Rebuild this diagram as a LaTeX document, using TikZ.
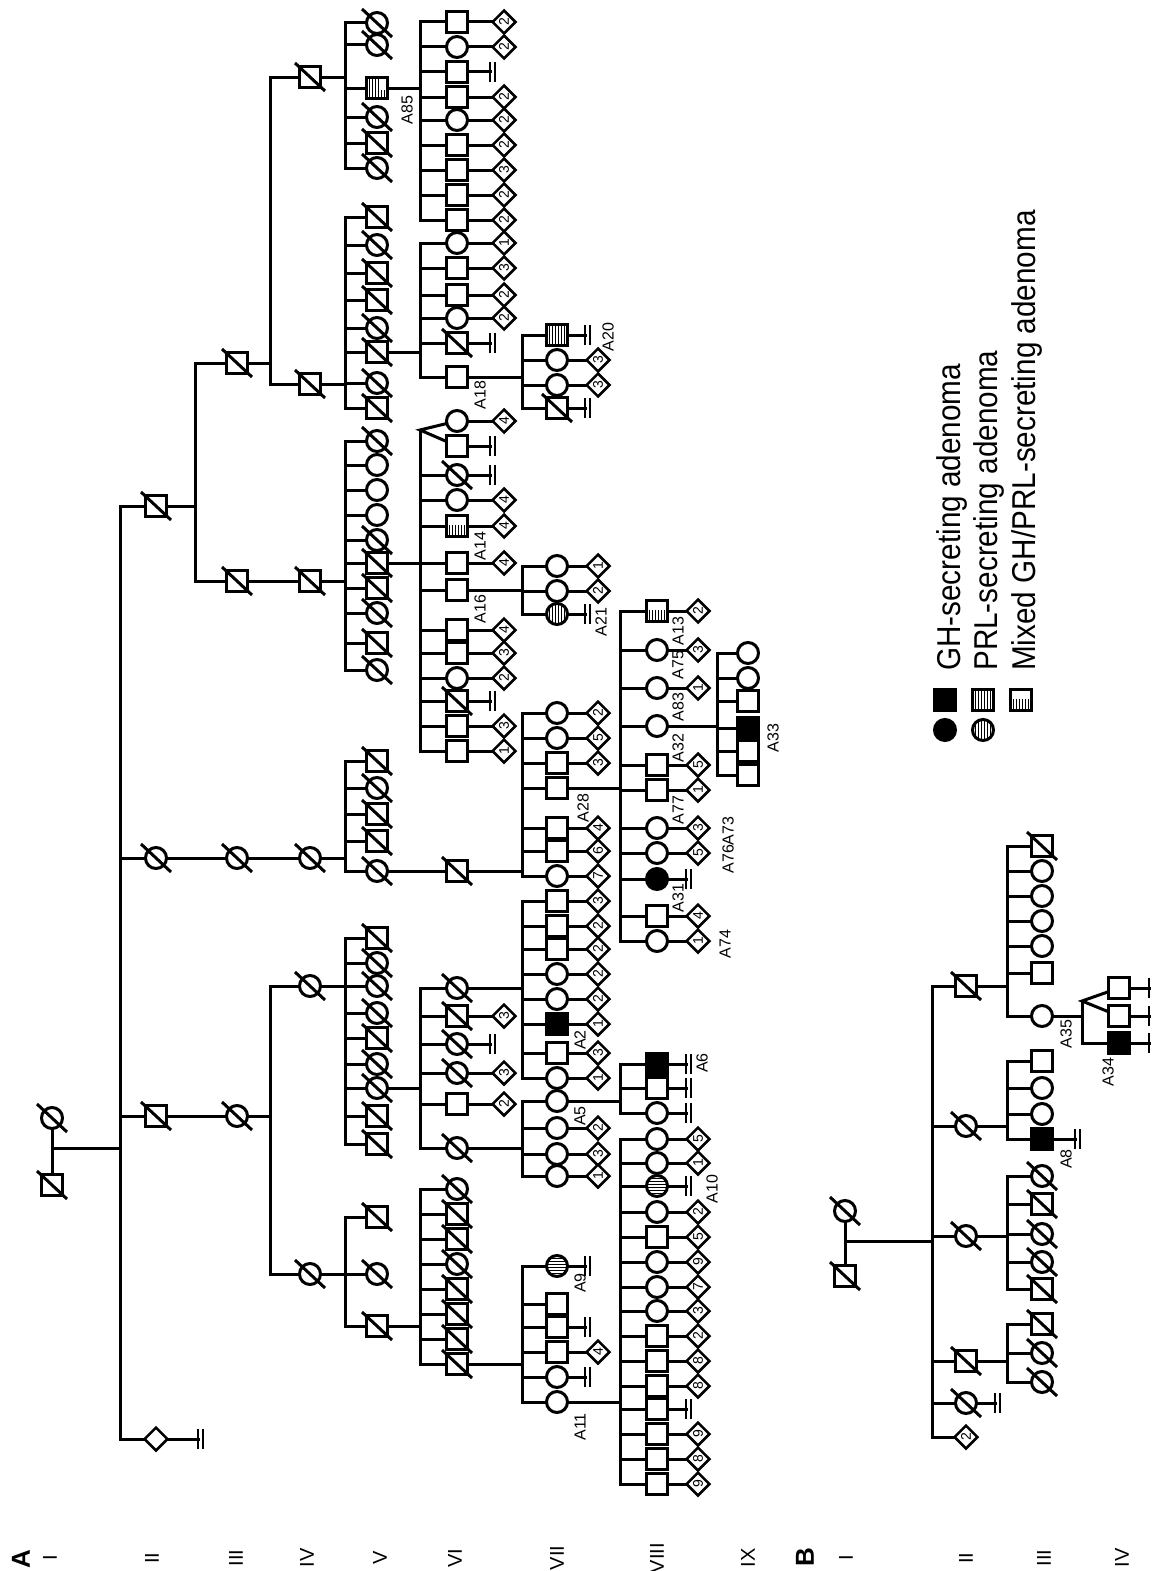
\documentclass[tikz,border=0pt]{standalone}
\usepackage{fontspec}
\setmainfont{Liberation Sans}
\newfontfamily\narrowf[FakeStretch=0.9]{Liberation Sans}
\usetikzlibrary{shapes.geometric}
\pgfdeclarelayer{bg}
\pgfsetlayers{bg,main}
\newcommand\digfont{\fontsize{14}{14}\selectfont}
\newcommand\labfont{\fontsize{16}{16}\selectfont}
\newcommand\legfont{\narrowf\fontsize{33}{33}\selectfont}
\newcommand\genfont{\fontsize{20}{20}\selectfont}
\newcommand\genbfont{\bfseries\fontsize{26}{26}\selectfont}
\newtoks\bgtoks
\newtoks\fgtoks
\newcommand\addbg[1]{\global\bgtoks\expandafter{\the\bgtoks #1}}
\newcommand\addfg[1]{\global\fgtoks\expandafter{\the\fgtoks #1}}
\newcommand\sibl[4]{\coordinate (#1t) at (#2,#3);\coordinate (#1b) at (#2,#4);%
  \addbg{\draw[ln] (#1t) -- (#1b);}}
\newcommand\pll[2]{\addbg{\draw[ln] (#2.center) -- (#2.center -| #1t);}}
\newcommand\lnk[2]{\addbg{\draw[ln] (#1.center) -- (#2.center);}}
\newcommand\slsh[1]{\addfg{\draw[slash] (#1.center) ++(-15,-14) -- ++(30,28);}}
\newcommand\chl[5]{\node[#4] (#2) at (\gx,#3) {};\pll{#1}{#2}\if d#5\slsh{#2}\fi}
\newcommand\dnode[4]{\node[#4] (#1) at (#2,#3) {};\slsh{#1}}
\newcommand\kdl[2]{\node[dia] (#1k) at ([xshift=\kx pt]#1.center) {#2};\lnk{#1}{#1k}}
\newcommand\nbl[1]{\coordinate (#1n) at ([xshift=\bx pt]#1.center);\lnk{#1}{#1n}%
  \draw[bar] ([yshift=-10pt]#1n) -- ([yshift=10pt]#1n);%
  \draw[bar] ([xshift=5pt,yshift=-10pt]#1n) -- ([xshift=5pt,yshift=10pt]#1n);}
\begin{document}
\begin{tikzpicture}[x=1pt,y=-1pt,
  ln/.style={line width=3pt,line cap=rect},
  slash/.style={line width=3pt},
  bar/.style={line width=2pt},
  m/.style={rectangle,draw,fill=white,line width=3pt,minimum size=21pt,inner sep=0pt},
  f/.style={circle,draw,fill=white,line width=3pt,minimum size=21pt,inner sep=0pt},
  dia/.style={diamond,draw,fill=white,line width=2.5pt,minimum size=24pt,inner sep=0pt,rotate=90,font=\digfont},
  gh/.style={fill=black},
  prl/.style={path picture={\foreach \i in {-7.5,-4.5,...,7.6}{\draw[line width=1.3pt] ([xshift=\i pt]path picture bounding box.north) -- ([xshift=\i pt]path picture bounding box.south);}}},
  prlh/.style={path picture={\foreach \i in {-7.5,-4.5,...,7.6}{\draw[line width=1.3pt] ([yshift=\i pt]path picture bounding box.west) -- ([yshift=\i pt]path picture bounding box.east);}}},
  mix/.style={path picture={\foreach \i in {-7.5,-4.5,...,7.6}{\draw[line width=1.3pt] ([xshift=\i pt]path picture bounding box.north) -- ([xshift=\i pt]path picture bounding box.south);}
     \fill (path picture bounding box.north west) rectangle ([yshift=-9pt]path picture bounding box.north east);}},
  mixr/.style={path picture={\foreach \i in {-7.5,-4.5,...,7.6}{\draw[line width=1.3pt] ([xshift=\i pt]path picture bounding box.north) -- ([xshift=\i pt]path picture bounding box.south);}
     \fill (path picture bounding box.north east) rectangle ([xshift=-8pt,yshift=-12pt]path picture bounding box.north east);}},
  lab/.style={rotate=90,font=\labfont,inner sep=0pt},
  leg/.style={rotate=90,anchor=base west,font=\legfont,inner sep=0pt},
  gen/.style={rotate=90,font=\genfont,inner sep=0pt},
  genb/.style={rotate=90,font=\genbfont,inner sep=0pt}]
\useasboundingbox (0,0) rectangle (1153,1571);
% ================= Pedigree A =================
\dnode{aIa}{52}{1118}{f}
\dnode{aIb}{52}{1185}{m}
\lnk{aIa}{aIb}
\coordinate (aIm) at (52,1148);
\sibl{sA2}{120}{506}{1439}
\addbg{\draw[ln] (aIm) -- (aIm -| sA2t);}
% II
\def\gx{156}
\chl{sA2}{aIIa}{506}{m}{d}
\chl{sA2}{aIIb}{858}{f}{d}
\chl{sA2}{aIIc}{1116}{m}{d}
\chl{sA2}{aIId}{1439}{dia}{a}
\def\bx{42}\nbl{aIId}
% III
\def\gx{237}
\sibl{sA3}{195}{363}{581}
\pll{sA3}{aIIa}
\chl{sA3}{aIIIa}{363}{m}{d}
\chl{sA3}{aIIIb}{581}{m}{d}
\dnode{aIIIc}{237}{858}{f}\lnk{aIIb}{aIIIc}
\dnode{aIIId}{237}{1116}{f}\lnk{aIIc}{aIIId}
% IV
\def\gx{310}
\sibl{sA4a}{270}{77}{384}
\pll{sA4a}{aIIIa}
\chl{sA4a}{aIVa}{77}{m}{d}
\chl{sA4a}{aIVb}{384}{m}{d}
\dnode{aIVc}{310}{581}{m}\lnk{aIIIb}{aIVc}
\dnode{aIVd}{310}{858}{f}\lnk{aIIIc}{aIVd}
\sibl{sA4b}{270}{986}{1274}
\pll{sA4b}{aIIId}
\chl{sA4b}{aIVe}{986}{f}{d}
\chl{sA4b}{aIVf}{1274}{f}{d}
% V
\def\gx{377}
\sibl{sA5a}{345}{23}{168}\pll{sA5a}{aIVa}
\chl{sA5a}{aVa1}{23}{f}{d}
\chl{sA5a}{aVa2}{45}{f}{d}
\chl{sA5a}{aVa3}{88}{m,mixr}{a}
\chl{sA5a}{aVa4}{117}{f}{d}
\chl{sA5a}{aVa5}{143}{m}{d}
\chl{sA5a}{aVa6}{168}{f}{d}
\sibl{sA5b}{345}{217}{408}\pll{sA5b}{aIVb}
\chl{sA5b}{aVb1}{217}{m}{d}
\chl{sA5b}{aVb2}{245}{f}{d}
\chl{sA5b}{aVb3}{273}{m}{d}
\chl{sA5b}{aVb4}{300}{m}{d}
\chl{sA5b}{aVb5}{328}{f}{d}
\chl{sA5b}{aVb6}{352}{m}{d}
\chl{sA5b}{aVb7}{383}{f}{d}
\chl{sA5b}{aVb8}{408}{m}{d}
\sibl{sA5c}{345}{441}{670}\pll{sA5c}{aIVc}
\chl{sA5c}{aVc1}{441}{f}{d}
\chl{sA5c}{aVc2}{465}{f}{a}
\chl{sA5c}{aVc3}{490}{f}{a}
\chl{sA5c}{aVc4}{515}{f}{a}
\chl{sA5c}{aVc5}{540}{f}{d}
\chl{sA5c}{aVc6}{563}{m}{d}
\chl{sA5c}{aVc7}{588}{m}{d}
\chl{sA5c}{aVc8}{613}{f}{d}
\chl{sA5c}{aVc9}{643}{m}{d}
\chl{sA5c}{aVc10}{670}{f}{d}
\sibl{sA5d}{345}{761}{871}\pll{sA5d}{aIVd}
\chl{sA5d}{aVd1}{761}{m}{d}
\chl{sA5d}{aVd2}{788}{f}{d}
\chl{sA5d}{aVd3}{814}{m}{d}
\chl{sA5d}{aVd4}{841}{m}{d}
\chl{sA5d}{aVd5}{871}{f}{d}
\sibl{sA5e}{345}{938}{1144}\pll{sA5e}{aIVe}
\chl{sA5e}{aVe1}{938}{m}{d}
\chl{sA5e}{aVe2}{963}{f}{d}
\chl{sA5e}{aVe3}{986}{f}{d}
\chl{sA5e}{aVe4}{1013}{f}{d}
\chl{sA5e}{aVe5}{1038}{m}{d}
\chl{sA5e}{aVe6}{1064}{f}{d}
\chl{sA5e}{aVe7}{1088}{f}{d}
\chl{sA5e}{aVe8}{1116}{m}{d}
\chl{sA5e}{aVe9}{1144}{m}{d}
\sibl{sA5f}{345}{1217}{1326}\pll{sA5f}{aIVf}
\chl{sA5f}{aVf1}{1217}{m}{d}
\chl{sA5f}{aVf2}{1274}{f}{d}
\chl{sA5f}{aVf3}{1326}{m}{d}
% VI
\def\gx{457}\def\kx{47}\def\bx{33}
\sibl{sA6a}{420}{22}{220}\pll{sA6a}{aVa3}
\chl{sA6a}{aVIa1}{22}{m}{a}\kdl{aVIa1}{2}
\chl{sA6a}{aVIa2}{47}{f}{a}\kdl{aVIa2}{2}
\chl{sA6a}{aVIa3}{72}{m}{a}\nbl{aVIa3}
\chl{sA6a}{aVIa4}{97}{m}{a}\kdl{aVIa4}{2}
\chl{sA6a}{aVIa5}{120}{f}{a}\kdl{aVIa5}{2}
\chl{sA6a}{aVIa6}{145}{m}{a}\kdl{aVIa6}{2}
\chl{sA6a}{aVIa7}{170}{m}{a}\kdl{aVIa7}{3}
\chl{sA6a}{aVIa8}{195}{m}{a}\kdl{aVIa8}{2}
\chl{sA6a}{aVIa9}{220}{m}{a}\kdl{aVIa9}{2}
\sibl{sA6b}{420}{243}{377}\pll{sA6b}{aVb6}
\chl{sA6b}{aVIb1}{243}{f}{a}\kdl{aVIb1}{1}
\chl{sA6b}{aVIb2}{268}{m}{a}\kdl{aVIb2}{3}
\chl{sA6b}{aVIb3}{295}{m}{a}\kdl{aVIb3}{2}
\chl{sA6b}{aVIb4}{318}{f}{a}\kdl{aVIb4}{2}
\chl{sA6b}{aVIb5}{343}{m}{d}\nbl{aVIb5}
\chl{sA6b}{aVIb6}{377}{m}{a}
\sibl{sA6c}{420}{430}{751}\pll{sA6c}{aVc6}
\node[f] (aVIc1) at (457,421) {};
\node[m] (aVIc2) at (457,446) {};
\addbg{\draw[ln] (aVIc1.center) -- (sA6ct) -- (aVIc2.center);}
\kdl{aVIc1}{4}\nbl{aVIc2}
\chl{sA6c}{aVIc3}{475}{f}{d}\nbl{aVIc3}
\chl{sA6c}{aVIc4}{500}{f}{a}\kdl{aVIc4}{4}
\chl{sA6c}{aVIc5}{526}{m,mix}{a}\kdl{aVIc5}{4}
\chl{sA6c}{aVIc6}{563}{m}{a}\kdl{aVIc6}{4}
\chl{sA6c}{aVIc7}{590}{m}{a}
\chl{sA6c}{aVIc8}{630}{m}{a}\kdl{aVIc8}{4}
\chl{sA6c}{aVIc9}{653}{m}{a}\kdl{aVIc9}{3}
\chl{sA6c}{aVIc10}{678}{f}{a}\kdl{aVIc10}{2}
\chl{sA6c}{aVIc11}{701}{m}{d}\nbl{aVIc11}
\chl{sA6c}{aVIc12}{726}{m}{a}\kdl{aVIc12}{3}
\chl{sA6c}{aVIc13}{751}{m}{a}\kdl{aVIc13}{1}
\dnode{aVId}{457}{871}{m}\lnk{aVd5}{aVId}
\sibl{sA6e}{420}{988}{1148}\pll{sA6e}{aVe7}
\chl{sA6e}{aVIe1}{988}{f}{d}
\chl{sA6e}{aVIe2}{1016}{m}{d}\kdl{aVIe2}{3}
\chl{sA6e}{aVIe3}{1044}{f}{d}\nbl{aVIe3}
\chl{sA6e}{aVIe4}{1073}{f}{d}\kdl{aVIe4}{3}
\chl{sA6e}{aVIe5}{1104}{m}{a}\kdl{aVIe5}{2}
\chl{sA6e}{aVIe6}{1148}{f}{d}
\sibl{sA6f}{420}{1189}{1364}\pll{sA6f}{aVf3}
\chl{sA6f}{aVIf1}{1189}{f}{d}
\chl{sA6f}{aVIf2}{1214}{m}{d}
\chl{sA6f}{aVIf3}{1239}{m}{d}
\chl{sA6f}{aVIf4}{1264}{f}{d}
\chl{sA6f}{aVIf5}{1289}{m}{d}
\chl{sA6f}{aVIf6}{1314}{m}{d}
\chl{sA6f}{aVIf7}{1339}{m}{d}
\chl{sA6f}{aVIf8}{1364}{m}{d}
% VII
\def\gx{557}\def\kx{41}\def\bx{28}
\sibl{sA7a}{522}{335}{408}\pll{sA7a}{aVIb6}
\chl{sA7a}{aVIIa1}{335}{m,prl}{a}\nbl{aVIIa1}
\chl{sA7a}{aVIIa2}{360}{f}{a}\kdl{aVIIa2}{3}
\chl{sA7a}{aVIIa3}{385}{f}{a}\kdl{aVIIa3}{3}
\chl{sA7a}{aVIIa4}{408}{m}{d}\nbl{aVIIa4}
\sibl{sA7b}{522}{566}{614}\pll{sA7b}{aVIc7}
\chl{sA7b}{aVIIb1}{566}{f}{a}\kdl{aVIIb1}{1}
\chl{sA7b}{aVIIb2}{591}{f}{a}\kdl{aVIIb2}{2}
\chl{sA7b}{aVIIb3}{614}{f,prl}{a}\nbl{aVIIb3}
\sibl{sA7c}{522}{713}{876}\pll{sA7c}{aVId}
\chl{sA7c}{aVIIc1}{713}{f}{a}\kdl{aVIIc1}{2}
\chl{sA7c}{aVIIc2}{738}{f}{a}\kdl{aVIIc2}{5}
\chl{sA7c}{aVIIc3}{763}{m}{a}\kdl{aVIIc3}{3}
\chl{sA7c}{aVIIc4}{788}{m}{a}
\chl{sA7c}{aVIIc5}{828}{m}{a}\kdl{aVIIc5}{4}
\chl{sA7c}{aVIIc6}{851}{m}{a}\kdl{aVIIc6}{6}
\chl{sA7c}{aVIIc7}{876}{f}{a}\kdl{aVIIc7}{7}
\sibl{sA7d}{522}{901}{1078}\pll{sA7d}{aVIe1}
\chl{sA7d}{aVIId1}{901}{m}{a}\kdl{aVIId1}{3}
\chl{sA7d}{aVIId2}{926}{m}{a}\kdl{aVIId2}{2}
\chl{sA7d}{aVIId3}{949}{m}{a}\kdl{aVIId3}{2}
\chl{sA7d}{aVIId4}{974}{f}{a}\kdl{aVIId4}{2}
\chl{sA7d}{aVIId5}{999}{f}{a}\kdl{aVIId5}{2}
\chl{sA7d}{aVIId6}{1024}{m,gh}{a}\kdl{aVIId6}{1}
\chl{sA7d}{aVIId7}{1053}{m}{a}\kdl{aVIId7}{3}
\chl{sA7d}{aVIId8}{1078}{f}{a}\kdl{aVIId8}{1}
\sibl{sA7e}{522}{1101}{1176}\pll{sA7e}{aVIe6}
\chl{sA7e}{aVIIe1}{1101}{f}{a}
\chl{sA7e}{aVIIe2}{1128}{f}{a}\kdl{aVIIe2}{2}
\chl{sA7e}{aVIIe3}{1154}{f}{a}\kdl{aVIIe3}{3}
\chl{sA7e}{aVIIe4}{1176}{f}{a}\kdl{aVIIe4}{1}
\sibl{sA7f}{522}{1266}{1402}\pll{sA7f}{aVIf8}
\chl{sA7f}{aVIIf1}{1266}{f,prlh}{a}\nbl{aVIIf1}
\chl{sA7f}{aVIIf2}{1304}{m}{a}
\chl{sA7f}{aVIIf3}{1327}{m}{a}\nbl{aVIIf3}
\chl{sA7f}{aVIIf4}{1352}{m}{a}\kdl{aVIIf4}{4}
\chl{sA7f}{aVIIf5}{1377}{f}{a}\nbl{aVIIf5}
\chl{sA7f}{aVIIf6}{1402}{f}{a}
% VIII
\def\gx{657}\def\kx{41}\def\bx{29}
\sibl{sA8a}{620}{611}{941}\pll{sA8a}{aVIIc4}
\chl{sA8a}{aVIIIa1}{611}{m,mix}{a}\kdl{aVIIIa1}{2}
\chl{sA8a}{aVIIIa2}{650}{f}{a}\kdl{aVIIIa2}{3}
\chl{sA8a}{aVIIIa3}{688}{f}{a}\kdl{aVIIIa3}{1}
\chl{sA8a}{aVIIIa4}{726}{f}{a}
\chl{sA8a}{aVIIIa5}{765}{m}{a}\kdl{aVIIIa5}{5}
\chl{sA8a}{aVIIIa6}{790}{m}{a}\kdl{aVIIIa6}{1}
\chl{sA8a}{aVIIIa7}{828}{f}{a}\kdl{aVIIIa7}{3}
\chl{sA8a}{aVIIIa8}{853}{f}{a}\kdl{aVIIIa8}{5}
\chl{sA8a}{aVIIIa9}{879}{f,gh}{a}\nbl{aVIIIa9}
\chl{sA8a}{aVIIIa10}{916}{m}{a}\kdl{aVIIIa10}{4}
\chl{sA8a}{aVIIIa11}{941}{f}{a}\kdl{aVIIIa11}{1}
\sibl{sA8b}{620}{1064}{1113}\pll{sA8b}{aVIIe1}
\chl{sA8b}{aVIIIb1}{1064}{m,gh}{a}\nbl{aVIIIb1}
\chl{sA8b}{aVIIIb2}{1088}{m}{a}\nbl{aVIIIb2}
\chl{sA8b}{aVIIIb3}{1113}{f}{a}\nbl{aVIIIb3}
\sibl{sA8c}{620}{1139}{1484}\pll{sA8c}{aVIIf6}
\chl{sA8c}{aVIIIc1}{1139}{f}{a}\kdl{aVIIIc1}{5}
\chl{sA8c}{aVIIIc2}{1163}{f}{a}\kdl{aVIIIc2}{1}
\chl{sA8c}{aVIIIc3}{1186}{f,prlh}{a}\nbl{aVIIIc3}
\chl{sA8c}{aVIIIc4}{1212}{f}{a}\kdl{aVIIIc4}{2}
\chl{sA8c}{aVIIIc5}{1237}{m}{a}\kdl{aVIIIc5}{5}
\chl{sA8c}{aVIIIc6}{1262}{f}{a}\kdl{aVIIIc6}{9}
\chl{sA8c}{aVIIIc7}{1287}{f}{a}\kdl{aVIIIc7}{7}
\chl{sA8c}{aVIIIc8}{1311}{f}{a}\kdl{aVIIIc8}{3}
\chl{sA8c}{aVIIIc9}{1336}{m}{a}\kdl{aVIIIc9}{2}
\chl{sA8c}{aVIIIc10}{1361}{m}{a}\kdl{aVIIIc10}{8}
\chl{sA8c}{aVIIIc11}{1386}{m}{a}\kdl{aVIIIc11}{8}
\chl{sA8c}{aVIIIc12}{1409}{m}{a}\nbl{aVIIIc12}
\chl{sA8c}{aVIIIc13}{1434}{m}{a}\kdl{aVIIIc13}{9}
\chl{sA8c}{aVIIIc14}{1459}{m}{a}\kdl{aVIIIc14}{8}
\chl{sA8c}{aVIIIc15}{1484}{m}{a}\kdl{aVIIIc15}{9}
% IX
\def\gx{748}
\sibl{sA9}{717}{653}{775}\pll{sA9}{aVIIIa4}
\chl{sA9}{aIX1}{653}{f}{a}
\chl{sA9}{aIX2}{678}{f}{a}
\chl{sA9}{aIX3}{701}{m}{a}
\chl{sA9}{aIX4}{728}{m,gh}{a}
\chl{sA9}{aIX5}{751}{m}{a}
\chl{sA9}{aIX6}{775}{m}{a}
% labels A
\node[lab] (lA85) at (407,110) {A85};
\node[lab] (lA20) at (608,337) {A20};
\node[lab] (lA18) at (480,395) {A18};
\node[lab] (lA14) at (480,546) {A14};
\node[lab] (lA16) at (480,609) {A16};
\node[lab] (lA21) at (601,622) {A21};
\node[lab] (lA13) at (678,631) {A13};
\node[lab] (lA75) at (678,665) {A75};
\node[lab] (lA83) at (678,707) {A83};
\node[lab] (lA32) at (678,748) {A32};
\node[lab] (lA33) at (773,738) {A33};
\node[lab] (lA77) at (678,810) {A77};
\node[lab] (lA7673) at (728,845) {A76A73};
\node[lab] (lA31) at (678,898) {A31};
\node[lab] (lA74) at (725,944) {A74};
\node[lab] (lA28) at (583,808) {A28};
\node[lab] (lA2) at (580,1040) {A2};
\node[lab] (lA6) at (702,1063) {A6};
\node[lab] (lA5) at (580,1116) {A5};
\node[lab] (lA10) at (712,1189) {A10};
\node[lab] (lA9) at (580,1283) {A9};
\node[lab] (lA11) at (580,1427) {A11};
% ================= Pedigree B =================
\dnode{bIa}{845}{1211}{f}
\dnode{bIb}{845}{1276}{m}
\lnk{bIa}{bIb}
\coordinate (bIm) at (845,1241);
\sibl{sB2}{932}{986}{1437}
\addbg{\draw[ln] (bIm) -- (bIm -| sB2t);}
\def\gx{966}
\chl{sB2}{bIIa}{986}{m}{d}
\chl{sB2}{bIIb}{1126}{f}{d}
\chl{sB2}{bIIc}{1236}{f}{d}
\chl{sB2}{bIId}{1361}{m}{d}
\chl{sB2}{bIIe}{1403}{f}{d}\def\bx{29}\nbl{bIIe}
\node[dia] (bIIf) at (966,1437) {2};\pll{sB2}{bIIf}
\def\gx{1042}
\sibl{sB3a}{1007}{846}{1016}\pll{sB3a}{bIIa}
\chl{sB3a}{bIIIa1}{846}{m}{d}
\chl{sB3a}{bIIIa2}{871}{f}{a}
\chl{sB3a}{bIIIa3}{896}{f}{a}
\chl{sB3a}{bIIIa4}{921}{f}{a}
\chl{sB3a}{bIIIa5}{946}{f}{a}
\chl{sB3a}{bIIIa6}{973}{m}{a}
\chl{sB3a}{bIIIa7}{1016}{f}{a}
\sibl{sB3b}{1007}{1061}{1139}\pll{sB3b}{bIIb}
\chl{sB3b}{bIIIb1}{1061}{m}{a}
\chl{sB3b}{bIIIb2}{1088}{f}{a}
\chl{sB3b}{bIIIb3}{1114}{f}{a}
\chl{sB3b}{bIIIb4}{1139}{m,gh}{a}\def\bx{33}\nbl{bIIIb4}
\sibl{sB3c}{1007}{1176}{1289}\pll{sB3c}{bIIc}
\chl{sB3c}{bIIIc1}{1176}{f}{d}
\chl{sB3c}{bIIIc2}{1204}{m}{d}
\chl{sB3c}{bIIIc3}{1234}{f}{d}
\chl{sB3c}{bIIIc4}{1262}{f}{d}
\chl{sB3c}{bIIIc5}{1289}{m}{d}
\sibl{sB3d}{1007}{1324}{1382}\pll{sB3d}{bIId}
\chl{sB3d}{bIIId1}{1324}{m}{d}
\chl{sB3d}{bIIId2}{1353}{f}{d}
\chl{sB3d}{bIIId3}{1382}{f}{d}
\def\gx{1119}\def\bx{30}
\sibl{sB4}{1082}{1001}{1043}\pll{sB4}{bIIIa7}
\node[m] (bIVa) at (1119,988) {};
\node[m] (bIVb) at (1119,1016) {};
\addbg{\draw[ln] (bIVa.center) -- (sB4t) -- (bIVb.center);}
\nbl{bIVa}\nbl{bIVb}
\chl{sB4}{bIVc}{1043}{m,gh}{a}\nbl{bIVc}
\node[lab] (lA35) at (1066,1034) {A35};
\node[lab] (lA8) at (1066,1159) {A8};
\node[lab] (lA34) at (1108,1072) {A34};
% ================= Legend =================
\node[m,gh] (lgA) at (945,700) {};
\node[f,gh] (lgB) at (945,730) {};
\node[m,prl] (lgC) at (983,700) {};
\node[f,prl] (lgD) at (983,730) {};
\node[m,mix] (lgE) at (1021,700) {};
\node[leg] (ltA) at (960,671) {GH-secreting adenoma};
\node[leg] (ltB) at (997,671) {PRL-secreting adenoma};
\node[leg] (ltC) at (1035,671) {Mixed GH/PRL-secreting adenoma};
% ================= Generation labels =================
\node[genb] (gA) at (21,1559) {A};
\node[gen] (gA1) at (50,1558) {I};
\node[gen] (gA2) at (152,1558) {II};
\node[gen] (gA3) at (236,1558) {III};
\node[gen] (gA4) at (307,1558) {IV};
\node[gen] (gA5) at (380,1558) {V};
\node[gen] (gA6) at (455,1558) {VI};
\node[gen] (gA7) at (557,1558) {VII};
\node[gen] (gA8) at (657,1558) {VIII};
\node[gen] (gA9) at (748,1558) {IX};
\node[genb] (gB) at (805,1557) {B};
\node[gen] (gB1) at (846,1558) {I};
\node[gen] (gB2) at (966,1558) {II};
\node[gen] (gB3) at (1044,1558) {III};
\node[gen] (gB4) at (1122,1558) {IV};
% ================= deferred layers =================
\begin{pgfonlayer}{bg}\the\bgtoks\end{pgfonlayer}
\the\fgtoks
\end{tikzpicture}
\end{document}
